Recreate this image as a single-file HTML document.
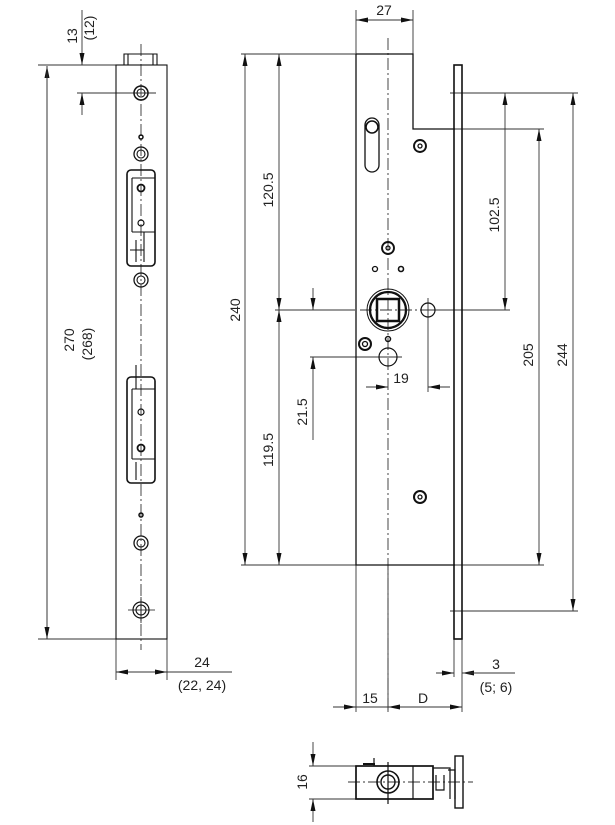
<!DOCTYPE html>
<html><head><meta charset="utf-8"><style>
html,body{margin:0;padding:0;background:#fff;}
svg{display:block;}
text{font-family:"Liberation Sans",sans-serif;font-size:14px;fill:#222;}
</style></head><body>
<svg width="615" height="825" viewBox="0 0 615 825" xmlns="http://www.w3.org/2000/svg">
<defs>
<marker id="a" markerWidth="12" markerHeight="8" refX="12" refY="4" orient="auto" markerUnits="userSpaceOnUse"><path d="M0,1.5 L12,4 L0,6.5 Z" fill="#111"/></marker>
</defs>
<g stroke="#333" stroke-width="0.9" fill="none">
<line x1="38" y1="65" x2="116" y2="65"/>
<line x1="38" y1="639" x2="116" y2="639"/>
<line x1="47" y1="639" x2="47" y2="66" marker-end="url(#a)"/>
<line x1="47" y1="66" x2="47" y2="639" marker-end="url(#a)"/>
<line x1="82" y1="40" x2="82" y2="65" marker-end="url(#a)"/>
<line x1="82" y1="115" x2="82" y2="93" marker-end="url(#a)"/>
<line x1="77" y1="93" x2="156" y2="93"/>
<line x1="82" y1="40" x2="82" y2="10"/>
<line x1="116" y1="639" x2="116" y2="680"/>
<line x1="167" y1="639" x2="167" y2="680"/>
<line x1="116" y1="672" x2="232" y2="672"/>
<line x1="128" y1="672" x2="116" y2="672" marker-end="url(#a)"/>
<line x1="155" y1="672" x2="167" y2="672" marker-end="url(#a)"/>
<line x1="356" y1="10" x2="356" y2="54"/>
<line x1="413" y1="10" x2="413" y2="54"/>
<line x1="384" y1="20" x2="356" y2="20" marker-end="url(#a)"/>
<line x1="384" y1="20" x2="413" y2="20" marker-end="url(#a)"/>
<line x1="241" y1="54" x2="356" y2="54"/>
<line x1="241" y1="565" x2="356" y2="565"/>
<line x1="245" y1="300" x2="245" y2="54" marker-end="url(#a)"/>
<line x1="245" y1="300" x2="245" y2="565" marker-end="url(#a)"/>
<line x1="279" y1="200" x2="279" y2="54" marker-end="url(#a)"/>
<line x1="279" y1="200" x2="279" y2="310" marker-end="url(#a)"/>
<line x1="279" y1="420" x2="279" y2="310" marker-end="url(#a)"/>
<line x1="279" y1="420" x2="279" y2="565" marker-end="url(#a)"/>
<line x1="275" y1="310" x2="355" y2="310"/>
<line x1="313" y1="288" x2="313" y2="310" marker-end="url(#a)"/>
<line x1="313" y1="440" x2="313" y2="357" marker-end="url(#a)"/>
<line x1="310" y1="357" x2="402" y2="357"/>
<line x1="366" y1="387" x2="388" y2="387" marker-end="url(#a)"/>
<line x1="450" y1="387" x2="428" y2="387" marker-end="url(#a)"/>
<line x1="428" y1="298" x2="428" y2="392"/>
<line x1="450" y1="93" x2="578" y2="93"/>
<line x1="413" y1="129" x2="544" y2="129"/>
<line x1="413" y1="565" x2="544" y2="565"/>
<line x1="450" y1="611" x2="578" y2="611"/>
<line x1="430" y1="310" x2="510" y2="310"/>
<line x1="505" y1="200" x2="505" y2="93" marker-end="url(#a)"/>
<line x1="505" y1="200" x2="505" y2="310" marker-end="url(#a)"/>
<line x1="539" y1="350" x2="539" y2="129" marker-end="url(#a)"/>
<line x1="539" y1="350" x2="539" y2="565" marker-end="url(#a)"/>
<line x1="573" y1="350" x2="573" y2="93" marker-end="url(#a)"/>
<line x1="573" y1="350" x2="573" y2="611" marker-end="url(#a)"/>
<line x1="356" y1="565" x2="356" y2="712"/>
<line x1="388" y1="565" x2="388" y2="712"/>
<line x1="462" y1="639" x2="462" y2="712"/>
<line x1="454" y1="639" x2="454" y2="677"/>
<line x1="333" y1="707" x2="356" y2="707" marker-end="url(#a)"/>
<line x1="356" y1="707" x2="462" y2="707"/>
<line x1="405" y1="707" x2="388" y2="707" marker-end="url(#a)"/>
<line x1="440" y1="707" x2="462" y2="707" marker-end="url(#a)"/>
<line x1="436" y1="673" x2="454" y2="673" marker-end="url(#a)"/>
<line x1="480" y1="673" x2="462" y2="673" marker-end="url(#a)"/>
<line x1="462" y1="673" x2="515" y2="673"/>
<line x1="309" y1="766" x2="356" y2="766"/>
<line x1="309" y1="799" x2="356" y2="799"/>
<line x1="313" y1="742" x2="313" y2="766" marker-end="url(#a)"/>
<line x1="313" y1="822" x2="313" y2="799" marker-end="url(#a)"/>
</g>
<g stroke="#333" stroke-width="0.9" stroke-dasharray="12,3,2,3" fill="none">
<line x1="141" y1="44" x2="141" y2="650"/>
<line x1="388" y1="38" x2="388" y2="712"/>
<line x1="348" y1="782" x2="473" y2="782"/>
<line x1="360" y1="310" x2="470" y2="310"/>
</g>
<g stroke="#111" stroke-width="1.1" fill="none">
<rect x="116" y="65" width="51" height="574"/>
<path d="M124,65 V54 H157 V65 M128,54 V65 M153,54 V65"/>
<circle cx="141" cy="93" r="7" stroke-width="1.5"/><circle cx="141" cy="93" r="4"/>
<circle cx="141" cy="137" r="2" stroke-width="1.5"/>
<circle cx="141" cy="154" r="7" stroke-width="1.3"/><circle cx="141" cy="154" r="4"/>
<rect x="127" y="170" width="28" height="96" rx="4" stroke-width="1.6"/>
<path d="M132,178 H155 M132,232 H155 M132,178 V232 M136,240 V262 M144,232 V262 M130,250 H144"/>
<circle cx="141" cy="188" r="3.5" stroke-width="1.8"/>
<circle cx="141" cy="223" r="3" stroke-width="1.2"/>
<circle cx="141" cy="280" r="7" stroke-width="1.3"/><circle cx="141" cy="280" r="4"/>
<rect x="127" y="377" width="28" height="106" rx="4" stroke-width="1.6"/>
<path d="M132,389 H155 M132,459 H155 M132,389 V459 M136,365 V389 M136,462 V480"/>
<circle cx="141" cy="412" r="3" stroke-width="1.2"/>
<circle cx="141" cy="448" r="3.5" stroke-width="1.8"/>
<circle cx="141" cy="515" r="2" stroke-width="1.5"/>
<circle cx="141" cy="543" r="7" stroke-width="1.3"/><circle cx="141" cy="543" r="4"/>
<circle cx="141" cy="610" r="8" stroke-width="1.2"/><circle cx="141" cy="610" r="5"/>
<path d="M128,610 H155 M141,597 V623" stroke-width="0.8"/>
</g>
<g stroke="#111" stroke-width="1.3" fill="none">
<path d="M356,54 H413 V129 H455 M356,54 V565 H455"/>
<rect x="454" y="65" width="8" height="574" stroke-width="1.6"/>
<rect x="365" y="118" width="14" height="54" rx="7"/>
<circle cx="372" cy="127" r="6" stroke-width="1.6"/>
<circle cx="420" cy="146" r="6" stroke-width="1.9"/><circle cx="420" cy="146" r="2"/>
<circle cx="388" cy="248" r="6" stroke-width="1.9"/><circle cx="388" cy="248" r="2"/>
<circle cx="375" cy="269" r="2.5"/><circle cx="401" cy="269" r="2.5" stroke-width="1.6"/>
<circle cx="388" cy="310" r="21" stroke-width="1"/>
<circle cx="388" cy="310" r="18" stroke-width="2.3"/>
<rect x="377" y="299" width="22" height="22" stroke-width="2.5"/>
<circle cx="428" cy="310" r="7" stroke-width="1.2"/>
<circle cx="388" cy="339" r="2.5" stroke-width="1.5"/>
<circle cx="365" cy="344" r="6" stroke-width="2"/><circle cx="365" cy="344" r="2.5"/>
<circle cx="388" cy="357" r="9" stroke-width="1.2"/>
<circle cx="420" cy="497" r="6" stroke-width="2"/><circle cx="420" cy="497" r="2"/>
</g>
<g stroke="#111" stroke-width="1.2" fill="none">
<rect x="356" y="766" width="77" height="33" stroke-width="1.7"/>
<rect x="455" y="756" width="8" height="52" stroke-width="1.4"/>
<circle cx="388" cy="782" r="11" stroke-width="1.6"/><circle cx="388" cy="782" r="7" stroke-width="1.4"/>
<path d="M374,766 V758 M388,762 V804 M413,766 V799 M433,768 H450 V799 M436,775 V790 H444 V775 M448,770 H455 V799"/>
<path d="M363,764 H375" stroke-width="2"/>
</g>
<text transform="translate(77,36) rotate(-90)" text-anchor="middle">13</text>
<text transform="translate(94,28) rotate(-90)" text-anchor="middle">(12)</text>
<text transform="translate(74,340) rotate(-90)" text-anchor="middle">270</text>
<text transform="translate(92,344) rotate(-90)" text-anchor="middle">(268)</text>
<text x="202" y="667" text-anchor="middle">24</text>
<text x="202" y="690" text-anchor="middle">(22, 24)</text>
<text x="384" y="15" text-anchor="middle">27</text>
<text transform="translate(240,310) rotate(-90)" text-anchor="middle">240</text>
<text transform="translate(273,190) rotate(-90)" text-anchor="middle">120.5</text>
<text transform="translate(273,450) rotate(-90)" text-anchor="middle">119.5</text>
<text transform="translate(307,412) rotate(-90)" text-anchor="middle">21.5</text>
<text x="401" y="383" text-anchor="middle">19</text>
<text transform="translate(499,215) rotate(-90)" text-anchor="middle">102.5</text>
<text transform="translate(533,355) rotate(-90)" text-anchor="middle">205</text>
<text transform="translate(567,355) rotate(-90)" text-anchor="middle">244</text>
<text x="370" y="703" text-anchor="middle">15</text>
<text x="423" y="703" text-anchor="middle">D</text>
<text x="496" y="669" text-anchor="middle">3</text>
<text x="496" y="692" text-anchor="middle">(5; 6)</text>
<text transform="translate(307,782) rotate(-90)" text-anchor="middle">16</text>
</svg>
</body></html>
